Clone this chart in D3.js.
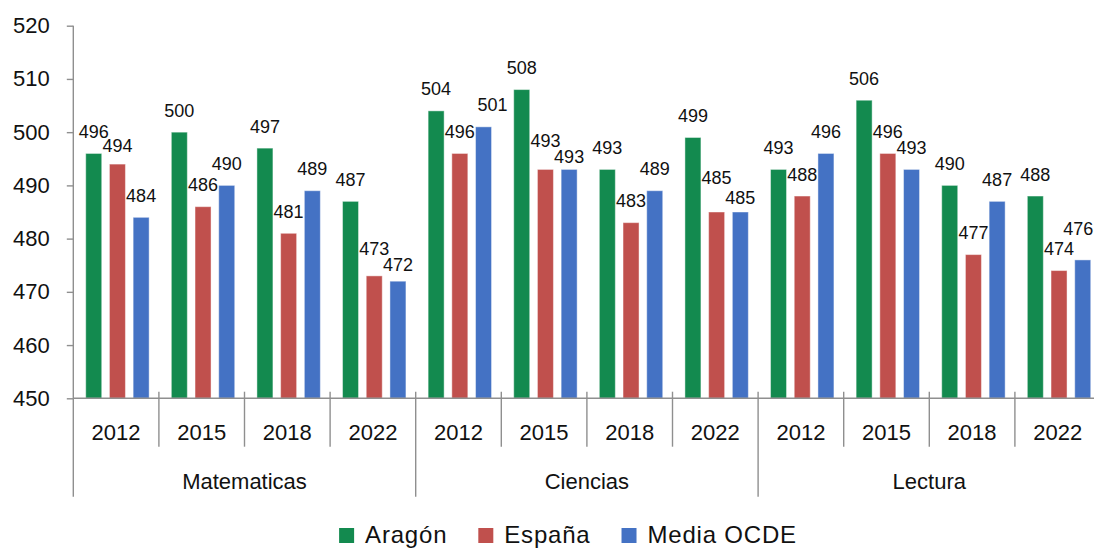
<!DOCTYPE html>
<html>
<head>
<meta charset="utf-8">
<script src="https://cdn.jsdelivr.net/npm/d3@7/dist/d3.min.js"></script>
<style>
  html, body { margin: 0; padding: 0; background: #fff; }
  svg { display: block; font-family: "Liberation Sans", Arial, sans-serif; }
</style>
</head>
<body>
<svg id="chart" width="1094" height="548"></svg>
<script>
// ---- data ----
const subjects = ["Matematicas", "Ciencias", "Lectura"];
const years = ["2012", "2015", "2018", "2022"];
const seriesNames = ["Aragón", "España", "Media OCDE"];
const aragon = [496, 500, 497, 487, 504, 508, 493, 499, 493, 506, 490, 488];
const espana = [494, 486, 481, 473, 496, 493, 483, 485, 488, 496, 477, 474];
const ocde   = [484, 490, 489, 472, 501, 493, 489, 485, 496, 493, 487, 476];
const yTicks = [450, 460, 470, 480, 490, 500, 510, 520];

// ---- styling / layout ----
const colors = ["#138A4F", "#C0504D", "#4472C4"];
const axisColor = "#8f8f8f";
const left = 73.3, groupW = 85.6;
const yTop = 25.7, yBase = 398.3, axisBottom = 496.7;
// manual label nudges [groupIndex, seriesIndex, dx, dy] (like the original's hand-placed labels)
const labelNudges = [[0,1,0,3.5],[3,1,0,-5],[3,2,0,5],[4,2,9,0],[5,1,0,-7],[5,2,0,9.5],[7,1,0,-12.5],[7,2,0,7.5],[11,2,-4.5,-9.5]];

const svg = d3.select("#chart");
const series = [aragon, espana, ocde];
const groups = d3.range(subjects.length * years.length);

const x0 = d3.scaleBand().domain(groups).range([left, left + groupW * groups.length]).paddingInner(0).paddingOuter(0);
const x1 = d3.scaleBand().domain(d3.range(series.length)).range([0, groupW])
  .paddingInner(0.325).paddingOuter(0.468).align(0.56);
const y = d3.scaleLinear().domain([450, 520]).range([yBase, yTop]);

// bars
series.forEach((vals, si) => {
  svg.append("g").selectAll("rect").data(vals).join("rect")
    .attr("x", (d, i) => x0(i) + x1(si))
    .attr("y", d => y(d))
    .attr("width", x1.bandwidth())
    .attr("height", d => y(450) - y(d))
    .attr("fill", colors[si])
    .attr("stroke", "rgba(255,255,255,0.45)")
    .attr("stroke-width", 1);
});

// labels
series.forEach((vals, si) => {
  svg.append("g").selectAll("text").data(vals).join("text")
    .attr("x", (d, i) => {
      const n = labelNudges.find(a => a[0] === i && a[1] === si);
      return x0(i) + x1(si) + x1.bandwidth() / 2 + (n ? n[2] : 0);
    })
    .attr("y", (d, i) => {
      const n = labelNudges.find(a => a[0] === i && a[1] === si);
      return y(d) - 15.5 + (n ? n[3] : 0);
    })
    .attr("text-anchor", "middle")
    .attr("font-size", 18)
    .attr("fill", "#111")
    .text(d => d);
});

// y axis
const yAxis = svg.append("g").attr("transform", `translate(${left},0)`)
  .call(d3.axisLeft(y).tickValues(yTicks).tickSize(6.5).tickPadding(17).tickFormat(d3.format("d")));
yAxis.select(".domain").remove();
yAxis.selectAll(".tick line").attr("stroke", axisColor).attr("stroke-width", 1.4);
yAxis.selectAll(".tick text").attr("font-size", 22).attr("fill", "#111")
  .attr("font-family", "Liberation Sans, Arial, sans-serif");
svg.append("line").attr("x1", left).attr("x2", left).attr("y1", yTop).attr("y2", axisBottom)
  .attr("stroke", axisColor).attr("stroke-width", 1.4);

// baseline
svg.append("line").attr("x1", left).attr("x2", 1094).attr("y1", yBase).attr("y2", yBase)
  .attr("stroke", axisColor).attr("stroke-width", 1.4);

// separators
groups.slice(1).concat([groups.length]).forEach(k => {
  const xx = left + groupW * k;
  const major = k % years.length === 0;
  svg.append("line").attr("x1", xx).attr("x2", xx)
    .attr("y1", 391.7).attr("y2", major ? axisBottom : 446.7)
    .attr("stroke", axisColor).attr("stroke-width", 1.4);
});

// year labels
svg.append("g").selectAll("text").data(groups).join("text")
  .attr("x", i => x0(i) + x0.bandwidth() / 2)
  .attr("y", 440)
  .attr("text-anchor", "middle")
  .attr("font-size", 22)
  .attr("fill", "#111")
  .text(i => years[i % years.length]);

// subject labels
svg.append("g").selectAll("text").data(subjects).join("text")
  .attr("x", (d, si) => left + groupW * years.length * (si + 0.5))
  .attr("y", 489)
  .attr("text-anchor", "middle")
  .attr("font-size", 22)
  .attr("fill", "#111")
  .text(d => d);

// legend
const legend = svg.append("g");
let cx = 0;
seriesNames.forEach((name, i) => {
  const g = legend.append("g");
  g.append("rect").attr("x", 0).attr("y", 528).attr("width", 15).attr("height", 15).attr("fill", colors[i]);
  const t = g.append("text").attr("x", 26).attr("y", 542.5).attr("font-size", 24).attr("fill", "#111")
    .attr("letter-spacing", 0.8).text(name);
  const w = 26 + t.node().getComputedTextLength();
  g.attr("transform", `translate(${cx},0)`);
  cx += w + 31;
});
const totalW = cx - 31;
legend.attr("transform", `translate(${568 - totalW / 2},0)`);
</script>
</body>
</html>
